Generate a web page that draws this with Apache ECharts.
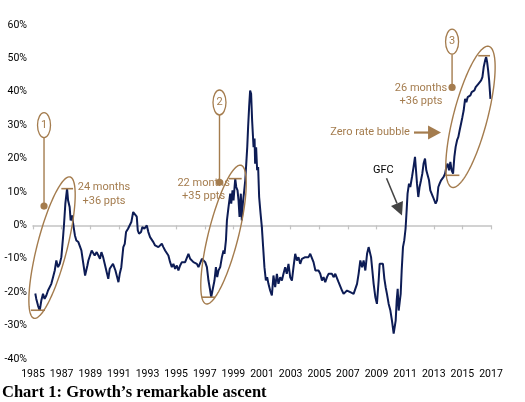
<!DOCTYPE html>
<html><head><meta charset="utf-8">
<script src="https://cdn.jsdelivr.net/npm/echarts@6.0.0/dist/echarts.min.js"></script>
<style>html,body{margin:0;padding:0;background:#fff}#c{width:525px;height:402px}</style>
</head><body><div id="c"></div>
<script>
// ---- data (decimal year, growth vs value relative performance %) ----
const dates = [1985.16,1985.23,1985.35,1985.47,1985.58,1985.70,1985.81,1985.93,1986.05,1986.17,1986.28,1986.40,1986.52,1986.63,1986.75,1986.87,1986.98,1987.10,1987.17,1987.26,1987.38,1987.45,1987.56,1987.63,1987.73,1987.84,1987.93,1988.03,1988.17,1988.26,1988.38,1988.50,1988.64,1988.80,1988.87,1988.96,1989.10,1989.31,1989.45,1989.55,1989.68,1989.78,1989.90,1990.01,1990.15,1990.26,1990.36,1990.48,1990.59,1990.76,1990.97,1991.06,1991.17,1991.31,1991.41,1991.50,1991.64,1991.76,1991.87,1992.00,1992.13,1992.25,1992.32,1992.41,1992.55,1992.64,1992.78,1992.95,1993.06,1993.18,1993.30,1993.41,1993.53,1993.65,1993.76,1993.88,1994.00,1994.11,1994.23,1994.35,1994.46,1994.58,1994.70,1994.81,1994.93,1995.05,1995.16,1995.28,1995.40,1995.51,1995.63,1995.75,1995.86,1995.98,1996.10,1996.21,1996.33,1996.45,1996.56,1996.68,1996.80,1996.91,1997.03,1997.15,1997.26,1997.38,1997.45,1997.54,1997.68,1997.78,1997.87,1997.96,1998.08,1998.20,1998.31,1998.38,1998.48,1998.55,1998.66,1998.78,1998.85,1998.94,1999.01,1999.13,1999.20,1999.29,1999.36,1999.43,1999.52,1999.59,1999.66,1999.76,1999.83,1999.90,1999.97,2000.03,2000.10,2000.17,2000.24,2000.31,2000.41,2000.48,2000.52,2000.59,2000.66,2000.73,2000.80,2000.90,2000.99,2001.08,2001.17,2001.27,2001.36,2001.45,2001.57,2001.69,2001.80,2001.92,2002.04,2002.15,2002.27,2002.39,2002.50,2002.62,2002.73,2002.85,2002.97,2003.09,2003.20,2003.32,2003.44,2003.55,2003.67,2003.79,2003.90,2004.02,2004.14,2004.25,2004.37,2004.49,2004.60,2004.73,2004.84,2004.95,2005.07,2005.19,2005.30,2005.42,2005.54,2005.65,2005.77,2005.89,2006.00,2006.12,2006.24,2006.35,2006.47,2006.59,2006.70,2006.82,2006.94,2007.05,2007.17,2007.29,2007.40,2007.52,2007.64,2007.75,2007.87,2007.99,2008.10,2008.22,2008.34,2008.45,2008.52,2008.62,2008.71,2008.80,2008.92,2009.03,2009.15,2009.22,2009.34,2009.45,2009.55,2009.64,2009.73,2009.85,2009.97,2010.08,2010.20,2010.27,2010.34,2010.41,2010.48,2010.55,2010.62,2010.69,2010.76,2010.85,2010.94,2011.03,2011.10,2011.17,2011.27,2011.36,2011.48,2011.59,2011.69,2011.76,2011.83,2011.92,2012.01,2012.11,2012.20,2012.29,2012.39,2012.48,2012.57,2012.67,2012.76,2012.85,2012.95,2013.04,2013.13,2013.23,2013.32,2013.41,2013.51,2013.60,2013.69,2013.79,2013.88,2013.97,2014.07,2014.16,2014.25,2014.35,2014.44,2014.53,2014.63,2014.72,2014.81,2014.91,2015.00,2015.09,2015.19,2015.28,2015.37,2015.47,2015.56,2015.65,2015.75,2015.84,2015.93,2016.03,2016.12,2016.21,2016.31,2016.40,2016.49,2016.59,2016.66,2016.73,2016.80,2016.87,2016.96];
const values = [-20.4,-22,-24,-25.5,-22.5,-20.5,-22,-21,-19.5,-19,-17.5,-15.5,-13.5,-10.5,-12.5,-11.5,-9.5,-3.5,0.5,6.5,11,7.5,5.5,1.5,3,-0.5,-3,-4.5,-5,-4.5,-7.5,-11,-15,-12,-10.5,-10,-7.5,-9,-8,-8.5,-10,-8,-9.5,-11.5,-14,-16,-13,-12.5,-11.5,-13.5,-17,-14.5,-12.5,-6.5,-5.5,-2,-1,-1.5,1,4,3.5,2.6,-1.5,-2.5,-2,-0.5,-1,0,-2,-3.5,-3,-5,-6,-5.5,-6.5,-6,-5.5,-6.5,-7.5,-7,-9,-11,-12.5,-11.5,-13,-12,-13.5,-12,-11,-10.5,-11,-10.5,-8.5,-10,-10.5,-11,-10.5,-11.5,-12.5,-13,-10,-9.5,-11,-12.5,-16.5,-19.5,-21.5,-19.5,-16.5,-12.5,-15.5,-13.5,-12.5,-9.5,-7.5,-8.5,-4.5,1.5,5.5,9.5,6.5,10.5,7.5,14,11.5,10.5,7.5,2.5,9.5,1.5,6.5,10.5,13.5,18.5,23.5,29.5,35.4,40.4,39.4,31.4,23.4,26,18.5,23.4,16.5,17.5,8.5,3.5,-0.5,-6.5,-12.5,-16.5,-15.5,-17.5,-19.5,-21,-15,-18.5,-14.5,-17.5,-15.5,-16.5,-14.5,-12.5,-14.5,-11.5,-15.5,-16.5,-12.5,-8.5,-10.5,-9.5,-11.5,-10,-10.5,-9.5,-9,-9.5,-8.5,-9,-11,-13.5,-14,-13.5,-14.5,-16.5,-15.5,-17,-15.5,-14.5,-15,-14.5,-15.5,-14.5,-15,-17,-17.5,-19.5,-20.5,-20,-19.5,-19,-20,-19.5,-20.5,-21,-17.5,-14.5,-10.5,-12.5,-10.5,-13.5,-8.5,-6.5,-6,-9.5,-13.5,-17.5,-21.5,-23.5,-16.5,-11.5,-11,-11.5,-16,-18.5,-20.5,-23.5,-25.5,-28.5,-32.4,-32.9,-28.5,-22.5,-19,-25.5,-23,-20.5,-13.5,-6.5,-4.5,-1,4,9.5,12.5,11.5,14.5,17.5,20.5,16.5,12.5,8.5,11.5,13.5,15.5,18.5,20,16.5,17,13.5,10.5,11,8.5,9,6.5,7.5,11.5,12.5,13.5,13.8,14.5,15.5,17.5,18.5,16.5,19,16.5,15.5,20.5,23.5,25.5,26.5,28.5,30.5,32.4,34.4,37.9,36.9,38.4,38,38.9,39.9,39.4,40.4,41.4,41,42.4,42,43.4,44.4,47.4,49.4,50.4,48.9,46.4,43.4,37.9];
const xTicks = {min: 1985, max: 2017, step: 2};
const yTicks = {min: -40, max: 60, step: 10};
const titleText = 'Chart 1: Growth\u2019s remarkable ascent';

// annotation anchors in data units
const episodes = [
  {num:'1', marker:[1985.77,30.0], dot:[1985.77,5.8], ends:[[1985.07,-27.8],[1987.59,14.5]], b:15,
   low:{v:-25.4,x:[1984.86,1985.84]}, high:{v:11.0,x:[1986.98,1987.80]}, label:'24 months\n+36 ppts', labelAt:[1989.96,9.3]},
  {num:'2', marker:[1998.03,36.8], dot:[1998.03,12.9], ends:[[1997.09,-23.5],[1999.53,18.0]], b:15,
   low:{v:-21.5,x:[1996.79,1997.72]}, high:{v:14.0,x:[1998.69,1999.58]}, label:'22 months\n+35 ppts', labelAt:[1996.92,10.6]},
  {num:'3', marker:[2014.28,55.0], dot:[2014.28,41.3], ends:[[2014.28,11.4],[2016.85,53.6]], b:17,
   low:{v:15.0,x:[2013.79,2014.79]}, high:{v:50.8,x:[2016.11,2016.93]}, label:'26 months\n+36 ppts', labelAt:[2012.11,39.1]}
];
const zeroRate = {text:'Zero rate bubble', textAt:[2008.55,27.8], from:[2011.62,27.8], to:[2013.51,27.8]};
const gfc = {text:'GFC', textAt:[2009.48,16.6], from:[2009.70,14.1], to:[2010.78,3.0]};

const BROWN = '#a47c4e';
const NAVY = '#0d1c55';
const chart = echarts.init(document.getElementById('c'));
chart.setOption({
  animation:false,
  backgroundColor:'#fff',
  grid:{left:33,right:34,top:25,bottom:43},
  title:{text:titleText,left:2,top:384,padding:0,
    textStyle:{fontFamily:'Liberation Serif',fontWeight:'bold',fontSize:16.5,color:'#000'}},
  xAxis:[
    {type:'value',min:xTicks.min,max:xTicks.max,interval:xTicks.step,position:'bottom',
     axisLine:{show:false,onZero:false},axisTick:{show:false},splitLine:{show:false},
     axisLabel:{margin:10,color:'#000',fontFamily:'Roboto',fontSize:10.5,showMinLabel:true,showMaxLabel:true,formatter:v=>String(v)}},
    {type:'value',min:xTicks.min,max:xTicks.max,interval:xTicks.step,position:'bottom',
     axisLine:{show:true,onZero:true,lineStyle:{color:'#c3c3c3',width:1.5}},
     axisTick:{show:true,length:4,lineStyle:{color:'#c3c3c3',width:1.2}},
     axisLabel:{show:false},splitLine:{show:false}}
  ],
  yAxis:{type:'value',min:yTicks.min,max:yTicks.max,interval:yTicks.step,
    axisLine:{show:false},axisTick:{show:false},splitLine:{show:false},
    axisLabel:{margin:6,color:'#000',fontFamily:'Roboto',fontSize:10.5,formatter:'{value}%'}},
  series:[{type:'line',xAxisIndex:0,yAxisIndex:0,data:dates.map((d,i)=>[d,values[i]]),
    showSymbol:false,symbol:'none',lineStyle:{color:NAVY,width:2},z:3}]
});

const P = (p)=>chart.convertToPixel({xAxisIndex:0,yAxisIndex:0},p);
const els = [];
const txt = (x,y,text,color,align,extra)=>Object.assign({type:'text',x:x,y:y,z:12,silent:true,
  style:{text:text,fill:color,font:'11px Roboto',align:align,textAlign:align,verticalAlign:'middle',textVerticalAlign:'middle',lineHeight:13.5}},extra||{});
function ellipsePts(e1,e2,b){
  const a1=P(e1),a2=P(e2);
  const cx=(a1[0]+a2[0])/2, cy=(a1[1]+a2[1])/2;
  const dx=a2[0]-a1[0], dy=a2[1]-a1[1], L=Math.hypot(dx,dy), a=L/2;
  const ux=dx/L, uy=dy/L, vx=-uy, vy=ux;
  const pts=[];
  for(let k=0;k<144;k++){const t=k/144*2*Math.PI;
    pts.push([cx+a*Math.cos(t)*ux+b*Math.sin(t)*vx, cy+a*Math.cos(t)*uy+b*Math.sin(t)*vy]);}
  return pts;
}
episodes.forEach(ep=>{
  els.push({type:'polygon',z:10,silent:true,shape:{points:ellipsePts(ep.ends[0],ep.ends[1],ep.b)},
    style:{fill:null,stroke:BROWN,lineWidth:1.4}});
  [ep.low,ep.high].forEach(bar=>{
    const p1=P([bar.x[0],bar.v]),p2=P([bar.x[1],bar.v]);
    els.push({type:'line',z:11,silent:true,shape:{x1:p1[0],y1:p1[1],x2:p2[0],y2:p2[1]},style:{stroke:BROWN,lineWidth:1.6}});
  });
  const m=P(ep.marker), d=P(ep.dot);
  const rx=6.5, ry=12.5;
  els.push({type:'line',z:11,silent:true,shape:{x1:m[0],y1:m[1]+ry,x2:d[0],y2:d[1]},style:{stroke:BROWN,lineWidth:1.4}});
  els.push({type:'circle',z:12,silent:true,shape:{cx:d[0],cy:d[1],r:3.6},style:{fill:BROWN}});
  els.push({type:'ellipse',z:12,silent:true,shape:{cx:m[0],cy:m[1],rx:rx,ry:ry},style:{fill:'#fff',stroke:BROWN,lineWidth:1.3}});
  els.push(txt(m[0],m[1],ep.num,BROWN,'center'));
  const l=P(ep.labelAt);
  els.push(txt(l[0],l[1],ep.label,BROWN,'center'));
});
// zero rate bubble arrow
(function(){
  const t=P(zeroRate.textAt), f=P(zeroRate.from), to=P(zeroRate.to);
  els.push(txt(t[0],t[1],zeroRate.text,BROWN,'center'));
  const headLen=13, hw=7;
  els.push({type:'line',z:11,silent:true,shape:{x1:f[0],y1:f[1],x2:to[0]-headLen+1,y2:to[1]},style:{stroke:BROWN,lineWidth:2.2}});
  els.push({type:'polygon',z:11,silent:true,shape:{points:[[to[0],to[1]],[to[0]-headLen,to[1]-hw],[to[0]-headLen,to[1]+hw]]},style:{fill:BROWN}});
})();
// GFC arrow
(function(){
  const t=P(gfc.textAt), f=P(gfc.from), to=P(gfc.to);
  els.push(txt(t[0],t[1],gfc.text,'#000','center'));
  const dx=to[0]-f[0], dy=to[1]-f[1], L=Math.hypot(dx,dy), ux=dx/L, uy=dy/L, vx=-uy, vy=ux;
  const headLen=13, hw=6.5;
  const bx=to[0]-ux*headLen, by=to[1]-uy*headLen;
  els.push({type:'line',z:11,silent:true,shape:{x1:f[0],y1:f[1],x2:bx,y2:by},style:{stroke:'#444',lineWidth:1.5}});
  els.push({type:'polygon',z:11,silent:true,shape:{points:[[to[0],to[1]],[bx+vx*hw,by+vy*hw],[bx-vx*hw,by-vy*hw]]},style:{fill:'#444'}});
})();
chart.setOption({graphic:{elements:els}});
</script>
</body></html>
